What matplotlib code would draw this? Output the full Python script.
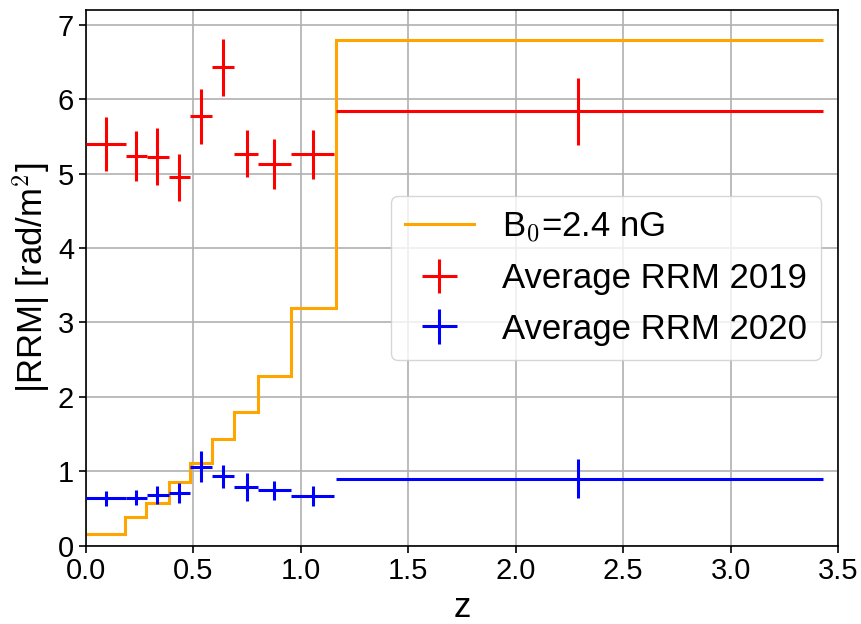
import numpy as np
import matplotlib
matplotlib.use("Agg")
import matplotlib.pyplot as plt

plt.rcParams['font.family'] = ['Liberation Sans', 'DejaVu Sans']
plt.rcParams['mathtext.fontset'] = 'cm'

# Bin centres and edges (redshift)
z_center = [0.093, 0.231, 0.332, 0.433, 0.534, 0.637, 0.747, 0.877, 1.057, 2.29]
z_lo = [0.0, 0.184, 0.284, 0.385, 0.485, 0.586, 0.690, 0.800, 0.953, 1.163]
z_hi = [0.184, 0.284, 0.385, 0.485, 0.586, 0.690, 0.800, 0.953, 1.155, 3.43]

# Average RRM 2019
rrm2019 = [5.40, 5.24, 5.23, 4.95, 5.77, 6.43, 5.27, 5.13, 5.26, 5.84]
rrm2019_err = [0.36, 0.34, 0.38, 0.32, 0.37, 0.38, 0.32, 0.34, 0.33, 0.45]

# Average RRM 2020
rrm2020 = [0.637, 0.645, 0.68, 0.71, 1.06, 0.93, 0.79, 0.745, 0.668, 0.90]
rrm2020_err = [0.10, 0.10, 0.12, 0.13, 0.21, 0.15, 0.19, 0.13, 0.14, 0.26]

# Model B0 = 2.4 nG (step function)
model_edges = [0.0, 0.182, 0.278, 0.384, 0.485, 0.584, 0.690, 0.800, 0.953, 1.163, 3.43]
model_vals = [0.16, 0.38, 0.58, 0.85, 1.11, 1.43, 1.80, 2.28, 3.20, 6.80]

zc = np.array(z_center)
xerr = [zc - np.array(z_lo), np.array(z_hi) - zc]

fig = plt.figure(figsize=(8.62, 6.24), dpi=100)
ax = fig.add_axes([0.0998, 0.1255, 0.8724, 0.8585])

ax.stairs(model_vals, model_edges, baseline=None, color='orange', linewidth=2.2,
          label=r'B$_0$=2.4 nG', zorder=2)
ax.errorbar(z_center, rrm2019, xerr=xerr, yerr=rrm2019_err, fmt='none',
            ecolor='red', elinewidth=2.2, capsize=0, label='Average RRM 2019', zorder=3)
ax.errorbar(z_center, rrm2020, xerr=xerr, yerr=rrm2020_err, fmt='none',
            ecolor='blue', elinewidth=2.2, capsize=0, label='Average RRM 2020', zorder=3)

ax.set_xlim(0, 3.5)
ax.set_ylim(0, 7.2)
ax.set_xticks(np.arange(0, 3.51, 0.5))
ax.set_yticks(np.arange(0, 8, 1))
ax.grid(True, color='#b0b0b0', linewidth=1.2)
ax.set_axisbelow(True)
ax.tick_params(labelsize=21, width=1.2, length=5)
for s in ax.spines.values():
    s.set_linewidth(1.2)

ax.set_xlabel('z', fontsize=25)
ax.set_ylabel(r'|RRM| [rad/m$^{\mathsf{2}}$]', fontsize=25)

ax.legend(loc='center right', fontsize=25)

fig.savefig('out.png', dpi=100)
